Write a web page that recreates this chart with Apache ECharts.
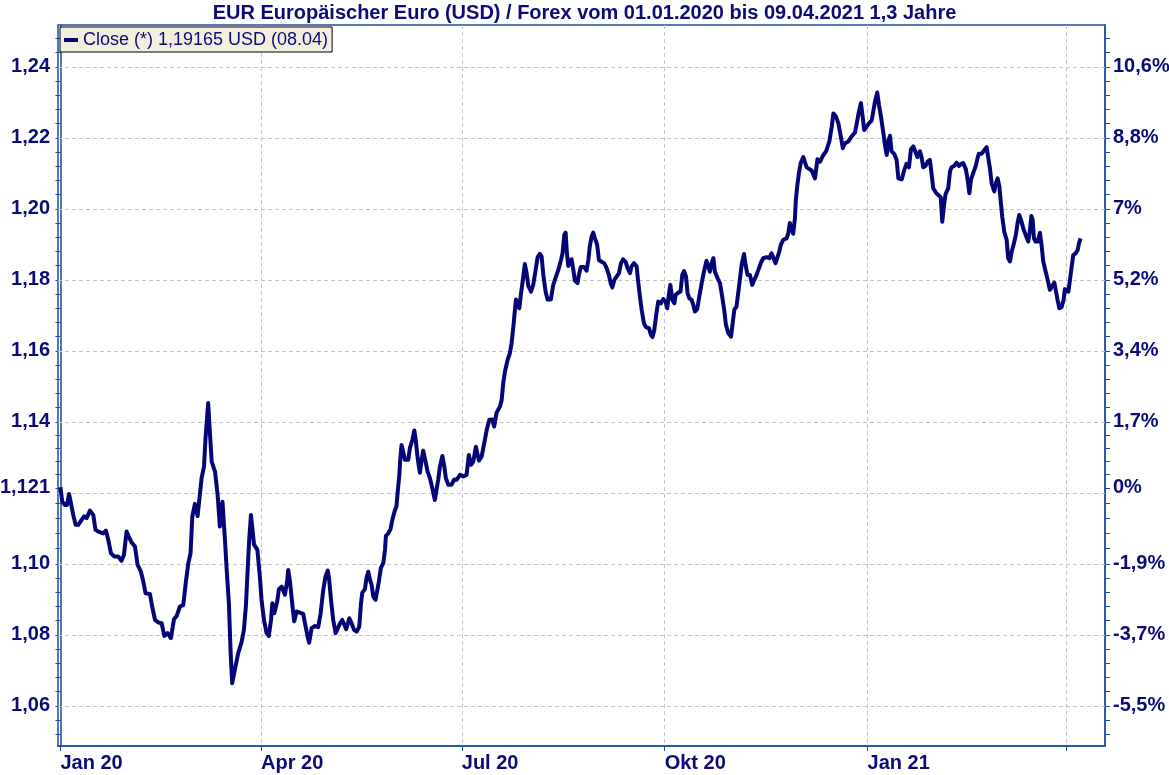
<!DOCTYPE html>
<html>
<head>
<meta charset="utf-8">
<script src="https://cdn.jsdelivr.net/npm/echarts@6/dist/echarts.min.js"></script>
<style>
html,body{margin:0;padding:0;background:#fff;}
#chart{width:1169px;height:775px;}
</style>
</head>
<body>
<div id="chart"></div>
<script>
// ---- data ----
// days since 2020-01-01
const dayOffsets = [
0,0.8,2,3,3.9,4.8,5.8,6.9,8.1,9.6,10.8,11.9,13.4,14.9,15.9,17.2,19.4,20.6,21.7,22.9,24.4,26.2,27.7,28.8,30,31,32.3,33.8,35,36.5,37.6,38.6,40.6,41.6,42.9,44.4,45.9,47.1,48.6,50.1,51.5,52.7,54.2,55.7,56.8,58,59,59.8,61,62.2,63.3,64,65.1,65.8,67,67.8,68.6,70.1,71.3,72.3,73.5,74.6,75.4,76.4,77.2,77.9,79.1,80.6,82.2,83.2,84.1,84.9,85.6,86.4,87.1,87.8,89.3,
90.5,91.2,92.3,93.5,94.5,95.5,96.1,97,97.6,98.3,99.1,100.3,101.8,102.9,103.3,104.1,105.1,106,107.1,107.9,110.1,111.2,112.1,112.8,113.9,115.4,116.9,118,119.2,120.2,121.2,121.8,122.7,123.7,124.8,125.7,126.7,127.8,128.7,129.6,131,132,133.2,134.3,135.5,136.3,136.9,138.1,138.8,139.6,140.4,141.1,141.9,142.9,143.8,144.4,145.3,146.4,147.2,147.6,148.7,149.7,150.5,151.4,152.4,152.9,153.7,154.1,154.7,155.5,156.2,157.7,158.5,159.6,160.5,161.2,162,163,163.8,164.5,165.6,166.5,167.6,168.8,169.8,170.6,171.3,172.1,173.2,174.1,174.8,175.9,177.4,178.6,179.7,181.2,182.7,
184.2,185.2,186.2,187.2,188.4,189.8,191,192.2,193.3,194.5,195.8,196.7,197.8,199.3,200.1,200.8,201.6,202.8,203.8,204.6,205.4,206.1,206.6,207.3,208.1,208.8,209.9,210.6,211.4,212.2,213.4,214.4,215.5,216.4,217.4,218.2,219,220,220.9,222.4,223.5,224.6,225.8,227,227.7,228.5,229.1,229.7,230.3,231.1,231.8,232.6,233.3,234.5,235.1,236,237.4,238.6,239.4,240.1,240.9,241.6,242.4,243.4,244.2,245.4,246.6,247.7,248.7,249.6,250.3,251.2,252.2,253.3,254.2,255.2,256.3,257.2,258.3,259,260.1,261.3,262,262.8,263.6,264.6,265.5,266.9,267.8,268.5,269.3,
270.4,271.1,272.3,273.4,274.4,275.2,275.9,276.6,277.5,278.4,279,280.2,281.2,282,282.8,283.7,284.4,285.2,286.2,287,287.7,288.8,289.7,290.8,292,293,293.8,294.5,295.3,296.1,296.8,298,299.1,300.1,301,301.8,302.9,304.1,304.8,305.6,306.6,307.4,308.1,308.9,310,310.7,311.6,312.7,313.7,314.6,315.7,316.8,317.7,318.7,320.2,321.5,322.5,323.3,324.3,325.2,326,326.7,327.8,329.3,330.1,330.8,331.6,332.3,333.1,333.5,334.2,334.9,335.7,
336.9,338.4,340.7,342.2,343.3,344.5,345.7,347.2,348.7,349.8,350.5,351.7,352.8,353.8,354.8,355.8,357.3,358.8,
360.3,361.1,362.1,363,363.6,364.5,365.6,366.6,367.9,368.6,369.4,370.4,371.2,372.1,373.1,373.9,374.7,375.4,376.2,376.9,378.1,379.2,380,381.5,382.7,383.7,384.8,385.7,386.8,387.5,388.6,389.8,390.5,391.3,392.3,393.3,394.3,395.1,395.8,397,398.1,399.2,399.9,400.8,401.4,402.6,403.4,404.1,405.3,406.4,407.5,408.4,409.4,410.6,411.4,412.2,412.9,414,415,415.9,416.5,417.7,419,420,420.8,421.5,422.3,423.5,424.2,425,425.8,426.5,427.1,428,429.1,429.8,430.6,431.4,432.4,433.3,434.1,434.8,435.6,436.6,437.7,438.9,439.7,440.3,440.9,441.5,442.2,443.2,444.2,445,445.7,446.8,447.7,448.7,449.8,450.7,451.5,452.2,453,454,454.9,455.5,456.3,457.1,457.8,458.6,459.3,460.4,461.3,461.9,462.6
];
const closeValues = [
1.1216,1.1176,1.1166,1.1166,1.1197,1.1170,1.1138,1.1110,1.1110,1.1124,1.1134,1.1129,1.1150,1.1138,1.1096,1.1091,1.1086,1.1094,1.1068,1.1030,1.1021,1.1021,1.1009,1.1025,1.1091,1.1077,1.1060,1.1049,1.0997,1.0978,1.0950,1.0917,1.0915,1.0880,1.0842,1.0835,1.0833,1.0797,1.0805,1.0791,1.0844,1.0853,1.0880,1.0884,1.0945,1.1002,1.1030,1.1133,1.1169,1.1135,1.1199,1.1241,1.1274,1.1354,1.1453,1.1368,1.1288,1.1260,1.1194,1.1105,1.1175,1.1068,1.0983,1.0889,1.0748,1.0664,1.0702,1.0748,1.0781,1.0814,1.0880,1.0983,1.1068,1.1138,1.1096,1.1054,1.1040,
1.0960,1.0899,1.0842,1.0805,1.0797,1.0842,1.0889,1.0861,1.0856,1.0894,1.0929,1.0936,1.0913,1.0955,1.0983,1.0950,1.0889,1.0838,1.0866,1.0869,1.0859,1.0823,1.0795,1.0778,1.0819,1.0825,1.0822,1.0861,1.0927,1.0964,1.0981,1.0960,1.0899,1.0842,1.0805,1.0800,1.0831,1.0842,1.0840,1.0816,1.0847,1.0833,1.0814,1.0809,1.0823,1.0889,1.0919,1.0929,1.0960,1.0978,1.0955,1.0941,1.0908,1.0899,1.0903,1.0950,1.0988,1.1002,1.1040,1.1079,1.1086,1.1098,1.1124,1.1145,1.1163,1.1199,1.1251,1.1295,1.1335,1.1314,1.1293,1.1293,1.1326,1.1349,1.1376,1.1345,1.1298,1.1257,1.1293,1.1319,1.1288,1.1260,1.1241,1.1209,1.1180,1.1185,1.1237,1.1274,1.1304,1.1274,1.1241,1.1223,1.1223,1.1238,1.1237,1.1251,1.1246,
1.1251,1.1307,1.1279,1.1288,1.1330,1.1291,1.1302,1.1340,1.1377,1.1406,1.1407,1.1387,1.1426,1.1443,1.1462,1.1509,1.1542,1.1575,1.1593,1.1622,1.1668,1.1715,1.1745,1.1745,1.1720,1.1758,1.1809,1.1845,1.1819,1.1783,1.1767,1.1786,1.1828,1.1864,1.1873,1.1866,1.1814,1.1767,1.1745,1.1745,1.1786,1.1807,1.1828,1.1856,1.1875,1.1927,1.1933,1.1875,1.1839,1.1851,1.1858,1.1828,1.1798,1.1791,1.1814,1.1836,1.1836,1.1826,1.1856,1.1896,1.1922,1.1933,1.1917,1.1899,1.1856,1.1851,1.1847,1.1833,1.1814,1.1789,1.1779,1.1800,1.1809,1.1819,1.1847,1.1858,1.1851,1.1833,1.1819,1.1838,1.1847,1.1838,1.1795,1.1753,1.1715,1.1678,1.1667,1.1664,1.1645,1.1639,1.1659,
1.1711,1.1739,1.1734,1.1746,1.1739,1.1720,1.1758,1.1786,1.1744,1.1734,1.1758,1.1764,1.1767,1.1814,1.1825,1.1809,1.1763,1.1748,1.1744,1.1730,1.1711,1.1718,1.1753,1.1791,1.1828,1.1854,1.1856,1.1823,1.1847,1.1861,1.1823,1.1805,1.1791,1.1753,1.1716,1.1673,1.1650,1.1640,1.1645,1.1716,1.1725,1.1730,1.1800,1.1842,1.1873,1.1842,1.1814,1.1814,1.1786,1.1791,1.1814,1.1833,1.1849,1.1861,1.1864,1.1861,1.1875,1.1870,1.1847,1.1842,1.1880,1.1899,1.1913,1.1917,1.1932,1.1960,1.1964,1.1930,1.1974,1.2025,1.2068,1.2101,1.2129,
1.2146,1.2117,1.2108,1.2086,1.2140,1.2133,1.2149,1.2162,1.2190,1.2232,1.2269,1.2260,1.2241,1.2208,1.2171,1.2185,1.2190,1.2204,
1.2215,1.2240,1.2274,1.2298,1.2270,1.2222,1.2232,1.2241,1.2249,1.2274,1.2302,1.2328,1.2293,1.2260,1.2218,1.2180,1.2152,1.2190,1.2206,1.2162,1.2155,1.2138,1.2086,1.2083,1.2110,1.2127,1.2117,1.2168,1.2176,1.2171,1.2146,1.2162,1.2146,1.2117,1.2121,1.2133,1.2138,1.2096,1.2058,1.2046,1.2039,1.2033,1.1964,1.2016,1.2042,1.2058,1.2105,1.2117,1.2121,1.2130,1.2121,1.2127,1.2129,1.2112,1.2082,1.2044,1.2082,1.2102,1.2119,1.2143,1.2155,1.2155,1.2166,1.2174,1.2171,1.2115,1.2072,1.2049,1.2072,1.2086,1.2063,1.2016,1.1978,1.1936,1.1913,1.1861,1.1852,1.1880,1.1903,1.1927,1.1962,1.1983,1.1969,1.1946,1.1927,1.1908,1.1941,1.1980,1.1969,1.1917,1.1908,1.1908,1.1933,1.1894,1.1852,1.1823,1.1800,1.1772,1.1783,1.1792,1.1767,1.1743,1.1720,1.1723,1.1743,1.1774,1.1779,1.1767,1.1800,1.1838,1.1870,1.1875,1.1884,1.1903,1.1917
];
const seriesName = 'Close (*) 1,19165 USD (08.04)';
const titleText = 'EUR Europäischer Euro (USD) / Forex vom 01.01.2020 bis 09.04.2021 1,3 Jahre';

// x ticks: quarter starts (days since 2020-01-01)
const xTickDays = [0, 91, 182, 274, 366, 456];
const xTickLabels = ['Jan 20', 'Apr 20', 'Jul 20', 'Okt 20', 'Jan 21', ''];

// y ticks
const yTickValues = [1.06, 1.08, 1.10, 1.1214, 1.14, 1.16, 1.18, 1.20, 1.22, 1.24];
const leftTickLabels = ['1,06', '1,08', '1,10', '1,121', '1,14', '1,16', '1,18', '1,20', '1,22', '1,24'];
const rightTickLabels = ['-5,5%', '-3,7%', '-1,9%', '0%', '1,7%', '3,4%', '5,2%', '7%', '8,8%', '10,6%'];

// ---- build ----
const yMin = 1.0487, yMax = 1.2518;
const xMin = -1.1, xMax = 473.7;
const NAVY = '#0b0b78';
const AXIS = '#1f4e9e';
const FONT = '"Liberation Sans", Arial, sans-serif';

// minor ticks: 5 subdivisions between labelled ticks
const minorTicks = [];
const step0 = 0.004;
for (let v = yTickValues[0] - step0; v > yMin; v -= step0) minorTicks.push(+v.toFixed(4));
for (let i = 0; i < yTickValues.length - 1; i++) {
  const a = yTickValues[i], b = yTickValues[i + 1];
  for (let k = 1; k < 5; k++) minorTicks.push(+(a + (b - a) * k / 5).toFixed(5));
}
for (let v = yTickValues[yTickValues.length - 1] + step0; v < yMax; v += step0) minorTicks.push(+v.toFixed(4));
const allYTicks = yTickValues.concat(minorTicks).sort((a, b) => a - b);

function lookup(vals, labels, v) {
  for (let i = 0; i < vals.length; i++) if (Math.abs(vals[i] - v) < 1e-6) return labels[i];
  return '';
}

const seriesData = dayOffsets.map((d, i) => [d, closeValues[i]]);

const chart = echarts.init(document.getElementById('chart'), null, {renderer: 'canvas'});
const yAxisBase = {
  type: 'value', min: yMin, max: yMax,
  axisLine: {show: true, lineStyle: {color: AXIS, width: 1.5}},
  axisTick: {show: true, inside: false, length: 5, customValues: allYTicks, lineStyle: {color: AXIS, width: 1}},
  splitLine: {show: false}
};
chart.setOption({
  animation: false,
  backgroundColor: '#ffffff',
  title: {
    text: titleText, left: 'center', top: 3, padding: 0,
    textStyle: {fontFamily: FONT, fontSize: 20, fontWeight: 'bold', color: NAVY}
  },
  legend: {
    left: 60, top: 27, padding: [4, 4, 3, 4],
    backgroundColor: '#f4eee0', borderColor: '#000000', borderWidth: 1, borderRadius: 0,
    itemWidth: 14, itemHeight: 4, itemGap: 5, icon: 'rect',
    textStyle: {fontFamily: FONT, fontSize: 18, color: NAVY},
    data: [seriesName]
  },
  grid: {left: 58, right: 64, top: 25, bottom: 29, show: true, borderColor: AXIS, borderWidth: 1.5,
    containLabel: false, outerBoundsMode: 'none'},
  xAxis: {
    type: 'value', min: xMin, max: xMax,
    axisLine: {show: true, lineStyle: {color: AXIS, width: 1.5}},
    axisTick: {show: true, length: 5, customValues: xTickDays, lineStyle: {color: AXIS, width: 1}},
    axisLabel: {
      show: true, customValues: xTickDays, align: 'left', margin: 7,
      fontFamily: FONT, fontSize: 20, fontWeight: 'bold', color: NAVY,
      formatter: v => lookup(xTickDays, xTickLabels, v)
    },
    splitLine: {show: true, lineStyle: {color: '#c4c4c4', type: [4, 3], width: 1}}
  },
  yAxis: [
    Object.assign({}, yAxisBase, {
      position: 'left',
      axisLabel: {show: true, customValues: yTickValues, margin: 8,
        fontFamily: FONT, fontSize: 20, fontWeight: 'bold', color: NAVY,
        formatter: v => lookup(yTickValues, leftTickLabels, v)}
    }),
    Object.assign({}, yAxisBase, {
      position: 'right',
      axisLabel: {show: true, customValues: yTickValues, margin: 8,
        fontFamily: FONT, fontSize: 20, fontWeight: 'bold', color: NAVY,
        formatter: v => lookup(yTickValues, rightTickLabels, v)}
    })
  ],
  series: [{
    name: seriesName, type: 'line', yAxisIndex: 0,
    data: seriesData, showSymbol: false, symbol: 'none',
    lineStyle: {color: '#050578', width: 4, join: 'round'},
    itemStyle: {color: '#050578'},
    z: 3,
    markLine: {
      silent: true, symbol: 'none', z: 1, animation: false,
      label: {show: false},
      lineStyle: {color: '#c4c4c4', type: [4, 3], width: 1},
      emphasis: {disabled: true},
      data: yTickValues.map(v => ({yAxis: v}))
    }
  }]
});
</script>
</body>
</html>
